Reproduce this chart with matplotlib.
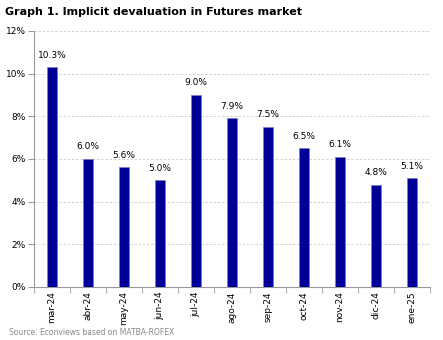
import matplotlib.pyplot as plt
import numpy as np

months = ['mar-24', 'abr-24', 'may-24', 'jun-24', 'jul-24', 'ago-24',
          'sep-24', 'oct-24', 'nov-24', 'dic-24', 'ene-25']
deval = [10.3, 6.0, 5.6, 5.0, 9.0, 7.9, 7.5, 6.5, 6.1, 4.8, 5.1]

plt.rcParams['font.family'] = 'DejaVu Sans'
fig = plt.figure(figsize=(4.43, 3.40), dpi=100)
ax = fig.add_axes([0.0767, 0.156, 0.894, 0.753])

x = np.arange(len(months))
ax.bar(x, deval, width=0.3, color='#000099', edgecolor='#7a7acc', linewidth=0.5, zorder=3)
for xi, v in zip(x, deval):
    ax.text(xi, v + 0.35, f'{v:.1f}%', ha='center', va='bottom', fontsize=6.5)

ax.set_xlim(-0.5, len(months) - 0.5)
ax.set_ylim(0, 12)
ax.set_yticks(np.arange(0, 13, 2))
ax.set_yticklabels([f'{t}%' for t in range(0, 13, 2)], fontsize=6.5)
ax.yaxis.grid(True, linestyle=(0, (3, 2)), color='#cccccc', linewidth=0.6, zorder=0)

ax.set_xticks(x)
ax.set_xticklabels(months, rotation=90, fontsize=6.5)
ax.tick_params(axis='x', length=0, pad=3)
ax.set_xticks(np.arange(-0.5, len(months)), minor=True)
ax.tick_params(axis='x', which='minor', length=4, color='#999999')
ax.tick_params(axis='y', length=4, color='#999999', pad=2)

for s in ['top', 'right']:
    ax.spines[s].set_visible(False)
ax.spines['left'].set_color('#999999')
ax.spines['bottom'].set_color('#999999')

fig.text(0.012, 0.965, 'Graph 1. Implicit devaluation in Futures market',
         fontsize=8, fontweight='bold', va='center')
fig.text(0.02, 0.022, 'Source: Econviews based on MATBA-ROFEX',
         fontsize=5.5, color='#888888', va='center')

fig.savefig('out.png', dpi=100)
